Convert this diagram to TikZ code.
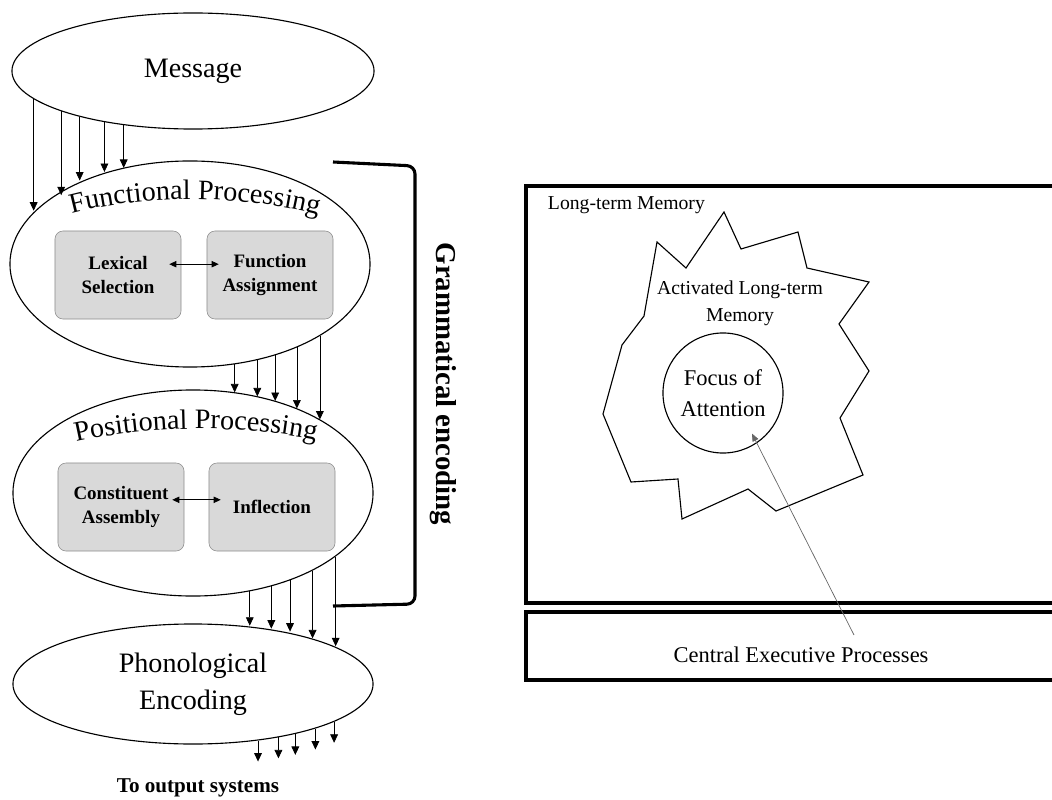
\documentclass[tikz,border=0pt]{standalone}
\usepackage{fontspec}
\setmainfont{Liberation Serif}
\usetikzlibrary{arrows.meta,shapes.geometric,decorations.text}

\tikzset{
  blob/.style={draw, ellipse, line width=0.8pt, inner sep=0pt, minimum width=9cm},
  subbox/.style={draw=black!45, fill=black!15, rounded corners=0.2cm, minimum width=3.15cm,
    minimum height=2.2cm, align=center, font=\fontsize{13.5}{17}\selectfont\bfseries},
  flow/.style={-{Triangle[length=6pt,width=5.5pt]}, line width=0.5pt},
  duo/.style={{Triangle[length=5pt,width=4.5pt]}-{Triangle[length=5pt,width=4.5pt]}, line width=0.5pt,
    shorten <=-0.3cm, shorten >=-0.3cm},
  pointer/.style={-{Triangle[length=5.5pt,width=4.5pt]}, draw=black!60, line width=0.5pt, shorten >=-0.27cm},
  frame/.style={line width=2.2pt},
}

\begin{document}
\begin{tikzpicture}[x=0.025cm, y=-0.025cm]
\useasboundingbox (0,0) rectangle (1052,800);
\clip (0,0) rectangle (1052,800);

% grammatical encoding column
\node[blob, minimum width=9.05cm, minimum height=2.9cm, font=\fontsize{20}{24}\selectfont] (msg) at (193,71) {Message};
\node[blob, minimum height=5.15cm] (fp) at (190,264) {};
\node[blob, minimum height=5.15cm] (pp) at (193,493) {};
\node[blob, minimum height=3cm, align=center, font=\fontsize{20}{26}\selectfont] (ph) at (193,684) {Phonological\\Encoding};

\path[decorate, decoration={text along path, text align=center,
  text={|\fontsize{20}{24}\selectfont|Functional Processing}}] (60,217) .. controls (140,193) and (240,193) .. (330,218);
\path[decorate, decoration={text along path, text align=center,
  text={|\fontsize{20}{24}\selectfont|Positional Processing}}] (67,444) .. controls (147,424) and (247,424) .. (325,442);

\node[subbox] (lex) at (118,275) {Lexical\\Selection};
\node[subbox] (fun) at (270,275) {Function\\Assignment};
\node[subbox] (con) at (121,507) {Constituent\\Assembly};
\node[subbox] (inf) at (272,507) {Inflection};
\draw[duo] ([yshift=0.27cm]lex.east) -- ([yshift=0.27cm]fun.west);
\draw[duo] ([yshift=0.18cm]con.east) -- ([yshift=0.18cm]inf.west);

\foreach \a/\b in {190/161, 197/153, 202/142, 210/132, 218/125}
  \draw[flow] (msg.\a) -- (msg.\a |- fp.\b);
\foreach \a/\b in {-66/67, -55/56, -47/48, -38/39, -29/30}
  \draw[flow] (fp.\a) -- (fp.\a |- pp.\b);
\foreach \a/\b in {-60/50, -50/37, -42/30, -33/21, -24/15}
  \draw[flow] (pp.\a) -- (pp.\a |- ph.\b);
\foreach \a in {-41, -32, -26, -20, -15}
  \draw[flow] (ph.\a) -- ++(0,21);

\node[anchor=base, font=\fontsize{15}{18}\selectfont\bfseries] (out) at (198,792) {To output systems};

% bracket
\draw[frame, rounded corners=0.2cm] (333,162) -- (415,166) -- (415,604) -- (333,606);
\node[rotate=-90, font=\fontsize{20.5}{24}\selectfont\bfseries] (gram) at (443,384) {Grammatical encoding};

% working memory
\draw[frame] (526,186) rectangle (1065,603);
\draw[frame] (526,612) rectangle (1065,680);
\node[anchor=base west, font=\fontsize{14}{17}\selectfont] (ltm) at (543,210) {Long-term Memory};

\draw[line width=0.8pt] (724,212) -- (741,249) -- (798,232) -- (807,268) -- (869,282) -- (839,324)
  -- (869,371) -- (840,418) -- (863,475) -- (776,511) -- (748,489) -- (682,519) -- (678,479)
  -- (631,482) -- (603,414) -- (622,345) -- (644,316) -- (657,242) -- (686,268) -- cycle;
\node[align=center, font=\fontsize{14}{19}\selectfont] (altm) at (740,303) {Activated Long-term\\Memory};
\node[draw, circle, line width=0.8pt, minimum size=3cm, inner sep=0pt, align=center,
  font=\fontsize{16}{22}\selectfont] (foa) at (723,393) {Focus of\\Attention};

\node[anchor=base, font=\fontsize{16}{19}\selectfont] (ce) at (801,662) {Central Executive Processes};
\coordinate (cetip) at (854,635);
\draw[pointer] (cetip) -- (foa.-56);
\end{tikzpicture}
\end{document}
